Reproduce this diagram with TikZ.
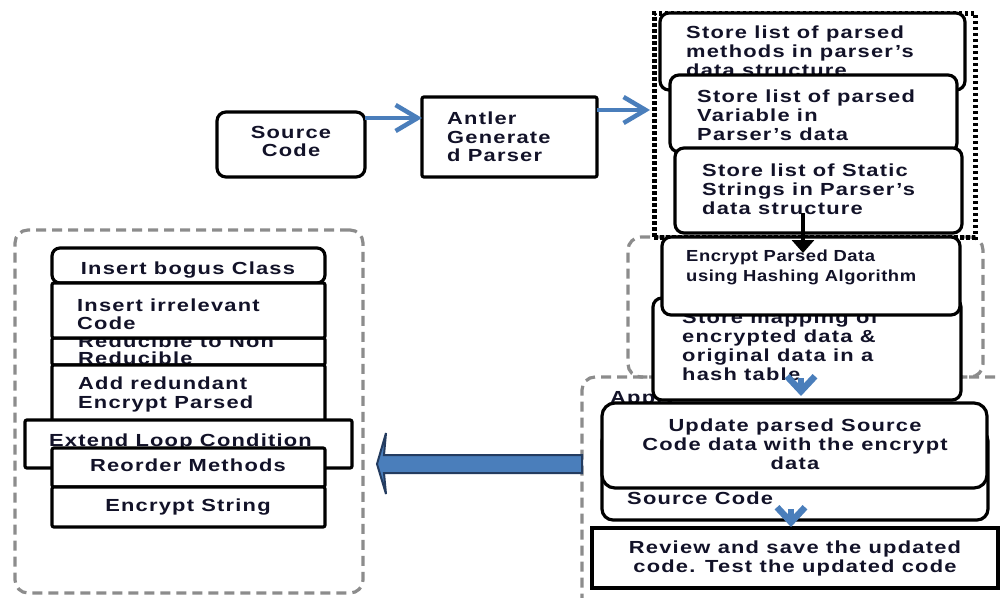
\documentclass[tikz,border=0pt]{standalone}
\usepackage{fontspec}
\setmainfont{Liberation Sans}[FakeStretch=1.25, LetterSpace=7]
\newfontfamily\encfont{Liberation Sans}[FakeStretch=1.15, LetterSpace=3.5]
\usetikzlibrary{arrows.meta,fit}
\definecolor{txtc}{RGB}{18,18,40}
\definecolor{arrblue}{RGB}{74,126,187}
\definecolor{arrborder}{RGB}{36,60,96}
\definecolor{dashgray}{RGB}{140,140,140}
\tikzset{
  rbox/.style={draw=black, line width=3.2pt, rounded corners=9pt, fill=white, inner sep=0pt},
  sbox/.style={draw=black, line width=3.2pt, rounded corners=2pt, fill=white, inner sep=0pt},
  txt/.style={inner sep=0pt, text=txtc, font=\fontsize{17.5}{19}\selectfont\bfseries, align=left, anchor=north west},
  ctxt/.style={txt, align=center, anchor=north},
  grp/.style={draw=dashgray, line width=3.2pt, dash pattern=on 10pt off 6pt, rounded corners=13pt, inner sep=0pt},
  dotgrp/.style={draw=black, line width=5pt, dash pattern=on 3.5pt off 2.5pt, inner sep=0pt},
  harr/.style={draw=arrblue, line width=4.5pt, -{Straight Barb[length=22pt,width=26pt]}},
  chev/.style={draw=arrblue, line width=6.5pt, -{Straight Barb[length=15pt,width=28pt]}},
  blkarr/.style={draw=black, line width=4.5pt, -{Triangle[length=13pt,width=22pt]}},
  bigarr/.style={fill=arrblue, draw=arrborder, line width=2pt, line join=miter},
}
\begin{document}
\begin{tikzpicture}[x=1pt,y=-1pt]
\useasboundingbox (0,0) rectangle (1001,597);
\clip (0,0) rectangle (1001,597);
\fill[white] (0,0) rectangle (1001,597);

% groups
\node[grp, fit={(15,230) (363,593)}] (g1) {};
\node[grp, fit={(628,237) (983,377)}] (g2) {};
\node[grp, fit={(582,377) (1040,650)}] (g3) {};
\node[dotgrp, fit={(654,13) (975,237)}] (g0) {};

% top row
\node[rbox, fit={(217,112) (365,177)}] (src) {};
\node[ctxt] (srct) at (291,126) {Source\\[-1pt]Code};
\node[sbox, fit={(422,97) (597,177)}] (ant) {};
\node[txt, font=\fontsize{17.5}{18.5}\selectfont\bfseries] (antt) at (447,112) {Antler\\Generate\\d Parser};
\coordinate (a1s) at (365,118);
\coordinate (a1e) at (422,118);
\draw[harr] (a1s) -- (a1e);
\coordinate (a2s) at (597,110);
\coordinate (a2e) at (650,110);
\draw[harr] (a2s) -- (a2e);

% parser data structure stack
\node[rbox, fit={(660,13) (965,90)}] (m1) {};
\node[txt] (m1t) at (686,26) {Store list of parsed\\methods in parser’s\\data structure};
\node[rbox, fit={(670,75) (957,152)}] (m2) {};
\node[txt] (m2t) at (697,90) {Store list of parsed\\Variable in\\Parser’s data};
\node[rbox, fit={(675,148) (962,233)}] (m3) {};
\node[txt] (m3t) at (702,164) {Store list of Static\\Strings in Parser’s\\data structure};

% encryption
\node[txt] (applt) at (610,391) {Apply};
\node[rbox, fit={(653,298) (961,400)}] (hash) {};
\node[txt] (hasht) at (682,311) {Store mapping of\\encrypted data \&\\original data in a\\hash table};
\node[rbox, fit={(662,237) (960,315)}] (enc) {};
\node[txt, font=\encfont\fontsize{16}{20}\selectfont\bfseries] (enct) at (686,250) {Encrypt Parsed Data\\using Hashing Algorithm};
\coordinate (ba1) at (803,213);
\coordinate (ba2) at (803,253);
\draw[blkarr] (ba1) -- (ba2);

% update
\node[rbox, rounded corners=11pt, fit={(602,430) (988,520)}] (src2) {};
\node[txt] (src2t) at (627,492) {Source Code};
\node[rbox, rounded corners=13pt, fit={(602,403) (987,488)}] (upd) {};
\node[ctxt] (updt) at (795,419) {Update parsed Source\\Code data with the encrypt\\data};
\coordinate (c1s) at (801,378);
\coordinate (c1e) at (801,396);
\draw[chev] (c1s) -- (c1e);
\node[sbox, rounded corners=0pt, fit={(592,528) (998,588)}] (rev) {};
\node[ctxt] (revt) at (795,541) {Review and save the updated\\code. Test the updated code};
\coordinate (c2s) at (791,509);
\coordinate (c2e) at (791,527);
\draw[chev] (c2s) -- (c2e);

% big arrow
\coordinate (bigS) at (582,464);
\coordinate (bigT) at (377,464);
\draw[bigarr] ([yshift=9pt]bigS) -- ([xshift=7pt,yshift=9pt]bigT) -- ([xshift=9pt,yshift=31pt]bigT) -- (bigT) -- ([xshift=9pt,yshift=-30pt]bigT) -- ([xshift=7pt,yshift=-9pt]bigT) -- ([yshift=-9pt]bigS) -- cycle;

% left stack
\node[rbox, rounded corners=8pt, fit={(52,248) (325,283)}] (bog) {};
\node[ctxt] (bogt) at (188,262) {Insert bogus Class};
\node[sbox, fit={(52,338) (325,365)}] (red) {};
\node[txt, font=\fontsize{17.5}{16.5}\selectfont\bfseries] (redt) at (78,335) {Reducible to Non\\Reducible};
\node[sbox, fit={(52,283) (325,338)}] (irr) {};
\node[txt, font=\fontsize{17.5}{18}\selectfont\bfseries] (irrt) at (77,299) {Insert irrelevant\\Code};
\node[sbox, fit={(52,365) (325,425)}] (add) {};
\node[txt] (addt) at (78,377) {Add redundant\\Encrypt Parsed};
\node[sbox, fit={(25,420) (352,468)}] (ext) {};
\node[txt] (extt) at (49,434) {Extend Loop Condition};
\node[sbox, fit={(52,448) (325,487)}] (reo) {};
\node[ctxt] (reot) at (188,459) {Reorder Methods};
\node[sbox, fit={(52,487) (325,527)}] (ens) {};
\node[ctxt] (enst) at (188,499) {Encrypt String};
\end{tikzpicture}
\end{document}
